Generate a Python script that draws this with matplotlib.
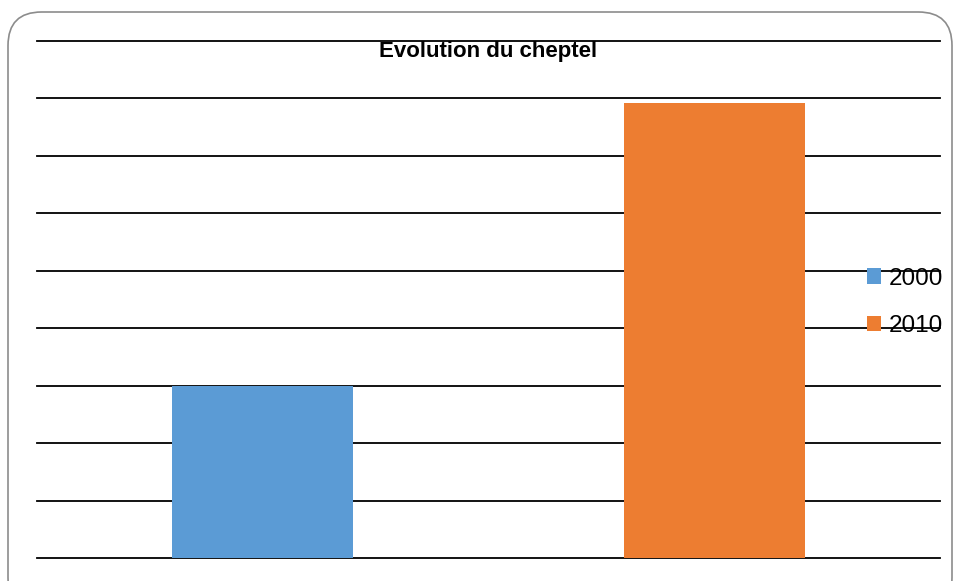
import matplotlib
matplotlib.use("Agg")
import matplotlib.pyplot as plt
from matplotlib.patches import FancyBboxPatch, Patch

categories = ["2000", "2010"]
values = [3000, 7920]
colors = ["#5B9BD5", "#ED7D31"]
title = "Evolution du cheptel"
y_max = 9000
y_step = 1000

W, H = 960, 581
plt.rcParams['font.family'] = ['Liberation Sans', 'DejaVu Sans']
fig = plt.figure(figsize=(W / 100, H / 100), dpi=100)

# rounded outer frame
frame = FancyBboxPatch((8 / W, -30 / H), (952 - 8) / W, (581 - 12 + 30) / H,
                       boxstyle="round,pad=0,rounding_size=0.035",
                       transform=fig.transFigure, facecolor="white",
                       edgecolor="#8c8c8c", linewidth=1.2, mutation_aspect=W / H,
                       zorder=-5)
fig.patches.append(frame)

ax = fig.add_axes([37 / W, (581 - 558) / H, (940 - 37) / W, (558 - 41) / H])
ax.set_zorder(1)
ax.set_facecolor("none")
xs = list(range(len(categories)))
ax.bar(xs, values, width=0.4, color=colors, zorder=2)
ax.set_xlim(-0.5, len(categories) - 0.5)
ax.set_ylim(0, y_max)
ax.set_yticks(range(0, y_max + 1, y_step))
ax.yaxis.grid(True, color="black", linewidth=1.3, zorder=0)
for gl in ax.get_ygridlines():
    gl.set_clip_on(False)
ax.set_axisbelow(True)
ax.tick_params(left=False, bottom=False, labelleft=False, labelbottom=False)
for s in ax.spines.values():
    s.set_visible(False)

fig.text(488 / W, 1 - 57 / H, title, ha="center", va="baseline",
         fontsize=16, fontweight="bold", zorder=4)

handles = [Patch(facecolor=c, edgecolor="none") for c in colors]
leg = fig.legend(handles, categories, loc="center left",
                 bbox_to_anchor=(866.5 / W, 1 - 302.5 / H), frameon=False,
                 fontsize=17.5, handlelength=0.6, handleheight=0.6,
                 handletextpad=0.3, labelspacing=1.05, borderpad=0,
                 borderaxespad=0)
leg.set_zorder(3)

fig.savefig("out.png", dpi=100)
